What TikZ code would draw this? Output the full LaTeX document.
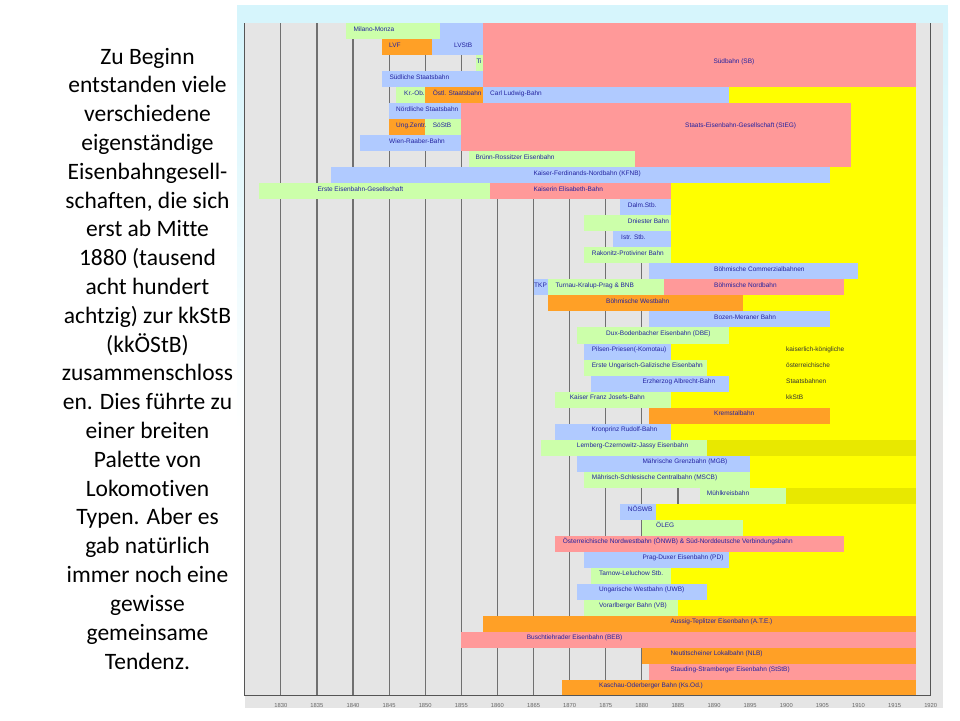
\documentclass[tikz,border=0pt]{standalone}
\usepackage{fontspec}
\setmainfont{Carlito}[Ligatures=NoCommon]
\newfontfamily\chartfont{Liberation Sans}
\definecolor{cgreen}{HTML}{CCFFAA}
\definecolor{cblue}{HTML}{B0CAFF}
\definecolor{cpink}{HTML}{FF9999}
\definecolor{corange}{HTML}{FFA026}
\definecolor{cyellow}{HTML}{FFFF00}
\definecolor{colive}{HTML}{E8E800}
\definecolor{cgrey}{HTML}{E5E5E5}
\definecolor{ccyan}{HTML}{D6F5FC}
\definecolor{ctext}{HTML}{2323A0}
\definecolor{kktext}{HTML}{333333}
\definecolor{gridc}{HTML}{707070}
\definecolor{axisc}{HTML}{555555}
\definecolor{yrtext}{HTML}{666666}
\tikzset{
  lbl/.style={anchor=base west, inner sep=0pt, font=\chartfont\fontsize{6.5}{7}\selectfont, text=ctext},
  klbl/.style={lbl, text=kktext},
  yrlbl/.style={anchor=center, inner sep=0pt, font=\chartfont\fontsize{5.8}{6}\selectfont, text=yrtext},
  side/.style={anchor=base, inner sep=0pt, font=\fontsize{23.5}{28.8}\selectfont, text=black},
  gridline/.style={line width=1.2pt, draw=gridc},
  axisline/.style={line width=1.3pt, draw=axisc},
}
\newcommand\tbar[4]{\fill[#1] ({#3-1830},{#2-1}) rectangle ({#4-1830},{#2});}
\newcommand\tlab[4]{\node[lbl] (#1) at ({(#3-280.8)/7.221},{#2-0.5}) {#4};}
\newcommand\klab[3]{\node[klbl] (#1) at ({(786-280.8)/7.221},{#2-0.5}) {#3};}
\begin{document}
\begin{tikzpicture}[x=1pt,y=-1pt]
\useasboundingbox (0,0) rectangle (960,720);
\fill[white] (0,0) rectangle (960,720);
% frame
\fill[ccyan] (237,5) rectangle (948,23.3);
\shade[top color=ccyan, bottom color=white] (237,23.3) rectangle (245,430);
\shade[top color=ccyan, bottom color=white] (942.7,23.3) rectangle (948,430);
\fill[cgrey] (245,23.3) rectangle (942.7,707.7);
% side text
\foreach \t [count=\i] in {Zu Beginn, entstanden viele, verschiedene, eigenständige, Eisenbahngesell-, {schaften, die sich}, erst ab Mitte, 1880 (tausend, acht hundert, achtzig) zur kkStB, (kkÖStB), zusammenschloss, en. Dies führte zu, einer breiten, Palette von, Lokomotiven, Typen. Aber es, gab natürlich, immer noch eine, gewisse, gemeinsame, Tendenz.}
  \node[side] (t\i) at (147.5,{64+28.81*(\i-1)}) {\t};
\begin{scope}[shift={(280.8,23.3)}, x=7.221pt, y=-16.01pt]
% grid
\foreach \g in {0,5,...,85} \draw[gridline] (\g,0) -- (\g,42);
% kkStB background
\fill[cyellow] (52,4) rectangle (88,29);
\fill[cyellow] (52,30) rectangle (88,37);
\fill[colive] (52,26) rectangle (88,27);
\fill[colive] (70,29) rectangle (88,30);
% bars
\fill[cpink] (28,0) rectangle (88,4);
\fill[cblue] (21,0) rectangle (28,2);
\tbar{cgreen}{1}{1839}{1852}
\tbar{corange}{2}{1844}{1851}
\tbar{cgreen}{3}{1857}{1858}
\tbar{cblue}{4}{1844}{1858}
\tbar{cgreen}{5}{1846}{1850}
\tbar{corange}{5}{1850}{1858}
\tbar{cblue}{5}{1858}{1892}
\fill[cpink] (25,5) rectangle (79,8);
\fill[cpink] (49,8) rectangle (79,9);
\tbar{cblue}{6}{1845}{1855}
\tbar{corange}{7}{1845}{1850}
\tbar{cgreen}{7}{1850}{1855}
\tbar{cblue}{8}{1841}{1855}
\tbar{cgreen}{9}{1856}{1879}
\tbar{cblue}{10}{1837}{1906}
\tbar{cgreen}{11}{1827}{1859}
\tbar{cpink}{11}{1859}{1884}
\tbar{cblue}{12}{1877}{1884}
\tbar{cgreen}{13}{1872}{1884}
\tbar{cblue}{14}{1876}{1884}
\tbar{cgreen}{15}{1872}{1884}
\tbar{cblue}{16}{1881}{1910}
\tbar{cblue}{17}{1865}{1867}
\tbar{cgreen}{17}{1867}{1883}
\tbar{cpink}{17}{1883}{1908}
\tbar{corange}{18}{1867}{1894}
\tbar{cblue}{19}{1881}{1906}
\tbar{cgreen}{20}{1871}{1892}
\tbar{cblue}{21}{1872}{1884}
\tbar{cgreen}{22}{1872}{1889}
\tbar{cblue}{23}{1873}{1892}
\tbar{cgreen}{24}{1868}{1884}
\tbar{corange}{25}{1881}{1906}
\tbar{cblue}{26}{1868}{1884}
\tbar{cgreen}{27}{1866}{1889}
\tbar{cblue}{28}{1871}{1895}
\tbar{cgreen}{29}{1872}{1895}
\tbar{cgreen}{30}{1888}{1900}
\tbar{cblue}{31}{1877}{1882}
\tbar{cgreen}{32}{1880}{1894}
\tbar{cpink}{33}{1868}{1908}
\tbar{cblue}{34}{1872}{1892}
\tbar{cgreen}{35}{1873}{1884}
\tbar{cblue}{36}{1871}{1889}
\tbar{cgreen}{37}{1872}{1885}
\tbar{corange}{38}{1858}{1918}
\tbar{cpink}{39}{1855}{1918}
\tbar{corange}{40}{1880}{1918}
\tbar{cpink}{41}{1881}{1918}
\tbar{corange}{42}{1869}{1918}
% labels
\tlab{r1}{1}{353.3}{Milano-Monza}
\tlab{r2a}{2}{389}{LVF}
\tlab{r2b}{2}{454}{LVStB}
\tlab{r3}{3}{476.3}{Ti}
\tlab{sb}{3}{713.3}{Südbahn (SB)}
\tlab{r4}{4}{389.3}{Südliche Staatsbahn}
\tlab{r5a}{5}{404}{Kr.-Ob.}
\tlab{r5b}{5}{432.7}{Östl. Staatsbahn}
\tlab{r5c}{5}{490}{Carl Ludwig-Bahn}
\tlab{r6}{6}{396}{Nördliche Staatsbahn}
\tlab{steg}{7}{685}{Staats-Eisenbahn-Gesellschaft (StEG)}
\tlab{r7a}{7}{396}{Ung.Zentr.}
\tlab{r7b}{7}{432.7}{SöStB}
\tlab{r8}{8}{389}{Wien-Raaber-Bahn}
\tlab{r9}{9}{475.3}{Brünn-Rossitzer Eisenbahn}
\tlab{r10}{10}{533.3}{Kaiser-Ferdinands-Nordbahn (KFNB)}
\tlab{r11a}{11}{317.3}{Erste Eisenbahn-Gesellschaft}
\tlab{r11b}{11}{533.3}{Kaiserin Elisabeth-Bahn}
\tlab{r12}{12}{627.7}{Dalm.Stb.}
\tlab{r13}{13}{627.7}{Dniester Bahn}
\tlab{r14}{14}{621}{Istr. Stb.}
\tlab{r15}{15}{591.7}{Rakonitz-Protiviner Bahn}
\tlab{r16}{16}{714}{Böhmische Commerzialbahnen}
\tlab{r17a}{17}{534}{TKP}
\tlab{r17b}{17}{555.3}{Turnau-Kralup-Prag \& BNB}
\tlab{r17c}{17}{714}{Böhmische Nordbahn}
\tlab{r18}{18}{606}{Böhmische Westbahn}
\tlab{r19}{19}{714}{Bozen-Meraner Bahn}
\tlab{r20}{20}{606}{Dux-Bodenbacher Eisenbahn (DBE)}
\tlab{r21}{21}{591.7}{Pilsen-Priesen(-Komotau)}
\tlab{r22}{22}{591.7}{Erste Ungarisch-Galizische Eisenbahn}
\tlab{r23}{23}{642.3}{Erzherzog Albrecht-Bahn}
\tlab{r24}{24}{569.7}{Kaiser Franz Josefs-Bahn}
\tlab{r25}{25}{714}{Kremstalbahn}
\tlab{r26}{26}{591.3}{Kronprinz Rudolf-Bahn}
\tlab{r27}{27}{576.7}{Lemberg-Czernowitz-Jassy Eisenbahn}
\tlab{r28}{28}{642.3}{Mährische Grenzbahn (MGB)}
\tlab{r29}{29}{591.7}{Mährisch-Schlesische Centralbahn (MSCB)}
\tlab{r30}{30}{706.7}{Mühlkreisbahn}
\tlab{r31}{31}{627.7}{NÖSWB}
\tlab{r32}{32}{656}{ÖLEG}
\tlab{r33}{33}{562.7}{Österreichische Nordwestbahn (ÖNWB) \& Süd-Norddeutsche Verbindungsbahn}
\tlab{r34}{34}{642.3}{Prag-Duxer Eisenbahn (PD)}
\tlab{r35}{35}{599}{Tarnow-Leluchow Stb.}
\tlab{r36}{36}{599}{Ungarische Westbahn (UWB)}
\tlab{r37}{37}{599}{Vorarlberger Bahn (VB)}
\tlab{r38}{38}{670.3}{Aussig-Teplitzer Eisenbahn (A.T.E.)}
\tlab{r39}{39}{526.7}{Buschtiehrader Eisenbahn (BEB)}
\tlab{r40}{40}{670.3}{Neutitscheiner Lokalbahn (NLB)}
\tlab{r41}{41}{670.3}{Stauding-Stramberger Eisenbahn (StStB)}
\tlab{r42}{42}{599}{Kaschau-Oderberger Bahn (Ks.Od.)}
\klab{k1}{21}{kaiserlich-königliche}
\klab{k2}{22}{österreichische}
\klab{k3}{23}{Staatsbahnen}
\klab{k4}{24}{kkStB}
% axes
\draw[axisline] (-5,0) -- (-5,42);
\draw[axisline] (90,0) -- (90,42);
\draw[axisline] (-5,42) -- (90,42);
\foreach \g in {0,5,...,90} {
  \pgfmathtruncatemacro\yy{1830+\g}
  \node[yrlbl] (y\yy) at (\g,42.58) {\yy};
}
\end{scope}
\end{tikzpicture}
\end{document}
